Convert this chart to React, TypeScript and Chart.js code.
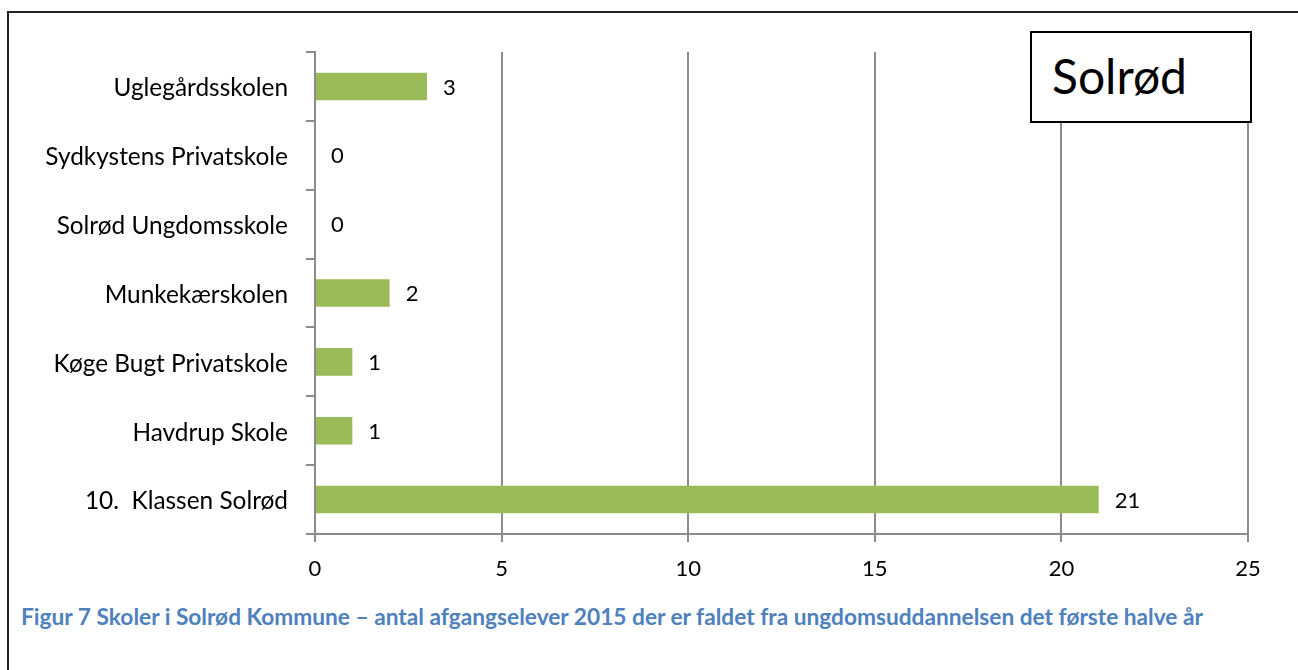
import React, { useEffect, useRef } from "react";
import { Chart, registerables } from "chart.js";

Chart.register(...registerables);

const schools = [
  "Uglegårdsskolen",
  "Sydkystens Privatskole",
  "Solrød Ungdomsskole",
  "Munkekærskolen",
  "Køge Bugt Privatskole",
  "Havdrup Skole",
  "10.  Klassen Solrød",
];
const students = [3, 0, 0, 2, 1, 1, 21];
const xTicks = [0, 5, 10, 15, 20, 25];

const FONT = "Lato";
const GRID = "#8c8c8c";

const valueLabels = {
  id: "valueLabels",
  afterDatasetsDraw(chart: any) {
    const ctx = chart.ctx;
    const meta = chart.getDatasetMeta(0);
    ctx.save();
    ctx.font = `22px ${FONT}`;
    ctx.fillStyle = "#000";
    ctx.textAlign = "left";
    ctx.textBaseline = "middle";
    meta.data.forEach((bar: any, i: number) => {
      const v = chart.data.datasets[0].data[i];
      ctx.fillText(String(v), bar.x + 16, bar.y + 1);
    });
    ctx.restore();
  },
};

export default function App() {
  const ref = useRef<HTMLCanvasElement>(null);
  useEffect(() => {
    if (!ref.current) return;
    const chart = new Chart(ref.current, {
      type: "bar",
      data: {
        labels: schools,
        datasets: [
          {
            data: students,
            backgroundColor: "#9BBB59",
            borderWidth: 0,
            barPercentage: 0.4,
            categoryPercentage: 1,
          },
        ],
      },
      options: {
        indexAxis: "y",
        animation: false,
        responsive: false,
        devicePixelRatio: 1,
        layout: { padding: { top: 52, right: 50, left: 0, bottom: 0 } },
        plugins: { legend: { display: false }, tooltip: { enabled: false } },
        scales: {
          x: {
            min: 0,
            max: 25,
            afterBuildTicks: (s: any) => {
              s.ticks = xTicks.map((v) => ({ value: v }));
            },
            afterFit: (s: any) => {
              s.height = 66;
            },
            grid: {
              color: GRID,
              lineWidth: 2,
              tickLength: 8,
              drawTicks: true,
            },
            border: { color: GRID, width: 2 },
            ticks: {
              font: { family: FONT, size: 22 },
              color: "#000",
              padding: 14,
              maxRotation: 0,
            },
          },
          y: {
            afterFit: (s: any) => {
              s.width = 315;
            },
            grid: {
              drawOnChartArea: false,
              color: GRID,
              lineWidth: 2,
              tickLength: 9,
              offset: true,
            },
            border: { color: GRID, width: 2 },
            ticks: {
              font: { family: FONT, size: 24.4 },
              color: "#000",
              padding: 18,
              labelOffset: 2,
            },
          },
        },
      },
      plugins: [valueLabels],
    });
    return () => chart.destroy();
  }, []);

  return (
    <div style={{ position: "absolute", left: 0, top: 0, width: 1298, height: 670, overflow: "hidden", background: "#fff" }}>
      <div
        style={{
          position: "absolute",
          left: 7,
          top: 11,
          width: 1320,
          height: 700,
          borderLeft: "2px solid #222",
          borderTop: "2px solid #222",
        }}
      />
      <canvas ref={ref} width={1298} height={600} style={{ position: "absolute", left: 0, top: 0 }} />
      <div
        style={{
          position: "absolute",
          left: 1030,
          top: 31,
          width: 222,
          height: 92,
          border: "2px solid #000",
          boxSizing: "border-box",
          background: "#fff",
          fontFamily: FONT,
          fontSize: 48,
          lineHeight: "86px",
          paddingLeft: 20,
          color: "#000",
        }}
      >
        Solrød
      </div>
      <div
        style={{
          position: "absolute",
          left: 21,
          top: 603,
          fontFamily: FONT,
          fontWeight: "bold",
          fontSize: 22.7,
          color: "#4F81BD",
          whiteSpace: "nowrap",
        }}
      >
        Figur 7 Skoler i Solrød Kommune – antal afgangselever 2015 der er faldet fra ungdomsuddannelsen det første halve år
      </div>
    </div>
  );
}
